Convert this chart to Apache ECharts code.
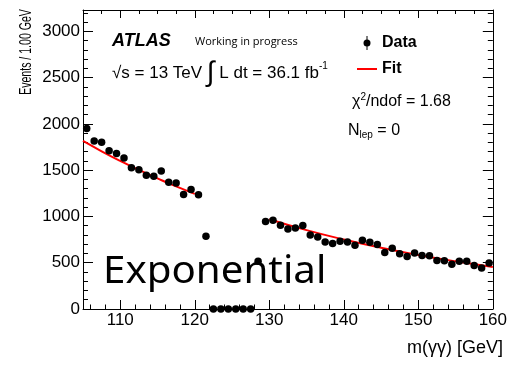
<!DOCTYPE html>
<html><head><meta charset="utf-8">
<script src="https://cdn.jsdelivr.net/npm/echarts@6/dist/echarts.min.js"></script>
<style>html,body{margin:0;padding:0;background:#fff}#c{width:510px;height:368px}</style>
</head><body><div id="c"></div>
<script>
// ---- data ----
const massBins = [105.5,106.5,107.5,108.5,109.5,110.5,111.5,112.5,113.5,114.5,115.5,116.5,117.5,118.5,119.5,120.5,121.5,
  122.5,123.5,124.5,125.5,126.5,127.5,
  128.5,129.5,130.5,131.5,132.5,133.5,134.5,135.5,136.5,137.5,138.5,139.5,140.5,141.5,142.5,143.5,
  144.5,145.5,146.5,147.5,148.5,149.5,150.5,151.5,152.5,153.5,154.5,155.5,156.5,157.5,158.5,159.5];
const eventCounts = [1950,1815,1800,1710,1680,1630,1525,1505,1445,1435,1490,1368,1361,1238,1292,1235,785,
  0,0,0,0,0,0,
  515,945,960,904,865,876,902,800,777,725,707,731,725,688,744,720,
  696,610,656,597,567,606,578,574,523,520,484,516,516,471,444,498];
const fitLeftMass = [105,107.5,110,112.5,115,117.5,120];
const fitLeftEvents = [1815,1704,1600,1502,1411,1324,1244];
const fitRightMass = [130,135,140,145,150,155,160];
const fitRightEvents = [970,852,751,662,584,515,454];
const xMajorTicks = [110,120,130,140,150,160];
const xMinorTicksBottom = [106,108,112,114,116,118,122,124,126,128,132,134,136,138,142,144,146,148,152,154,156,158];
const xMinorTicksTop = [107.5,112.5,115,117.5,122.5,125,127.5,132.5,135,137.5,142.5,145,147.5,152.5,155,157.5];
const yMajorTicks = [0,500,1000,1500,2000,2500,3000];
const yMinorTicks = [100,200,300,400,600,700,800,900,1100,1200,1300,1400,1600,1700,1800,1900,2100,2200,2300,2400,2600,2700,2800,2900,3100,3200];
const X_MIN = 105, X_MAX = 160, Y_MIN = 0, Y_MAX = 3230;

const FONT = 'Liberation Sans';
const chart = echarts.init(document.getElementById('c'), null, {renderer: 'canvas'});

function axisDef(range, position, ticks, len, showLine, showLabels) {
  return {
    type: 'value', min: range[0], max: range[1], position: position,
    axisLine: {show: showLine, onZero: false, lineStyle: {color: '#000', width: 1}},
    axisTick: {show: true, inside: true, length: len, customValues: ticks, lineStyle: {color: '#000', width: 1}},
    axisLabel: showLabels ? {show: true, customValues: ticks, margin: 3, color: '#000', fontFamily: FONT, fontSize: 17,
      formatter: v => String(v)} : {show: false},
    splitLine: {show: false}, minorTick: {show: false}
  };
}
const XR = [X_MIN, X_MAX], YR = [Y_MIN, Y_MAX];

const option = {
  animation: false,
  backgroundColor: '#fff',
  grid: {left: 83, right: 12, top: 10, bottom: 59, containLabel: false},
  xAxis: [
    axisDef(XR, 'bottom', xMajorTicks, 9, true, true),
    axisDef(XR, 'bottom', xMinorTicksBottom, 4.5, false, false),
    axisDef(XR, 'top', xMajorTicks, 8, true, false),
    axisDef(XR, 'top', xMinorTicksTop, 4, false, false)
  ],
  yAxis: [
    axisDef(YR, 'left', yMajorTicks, 10, true, true),
    axisDef(YR, 'left', yMinorTicks, 5, false, false),
    axisDef(YR, 'right', yMajorTicks, 10, true, false),
    axisDef(YR, 'right', yMinorTicks, 5, false, false)
  ],
  legend: {
    orient: 'vertical', left: 357, top: 34, padding: 0, itemWidth: 20, itemHeight: 7, itemGap: 8,
    textStyle: {fontFamily: FONT, fontSize: 16, fontWeight: 'bold', color: '#000', lineHeight: 18},
    data: [
      {name: 'Data', icon: 'circle'},
      {name: 'Fit', icon: 'path://M0,0 L20,0 L20,2 L0,2 Z'}
    ]
  },
  series: [
    {
      name: 'Data', type: 'scatter', xAxisIndex: 0, yAxisIndex: 0, clip: false,
      symbol: 'circle', symbolSize: 7.5, itemStyle: {color: '#000', opacity: 1},
      data: massBins.map((m, i) => [m, eventCounts[i]]), z: 5
    },
    {
      name: 'Fit', type: 'line', xAxisIndex: 0, yAxisIndex: 0, smooth: true, showSymbol: false, symbol: 'none',
      lineStyle: {color: '#ff0000', width: 2}, itemStyle: {color: '#ff0000'},
      data: fitLeftMass.map((m, i) => [m, fitLeftEvents[i]]), z: 4
    },
    {
      name: 'Fit', type: 'line', xAxisIndex: 0, yAxisIndex: 0, smooth: true, showSymbol: false, symbol: 'none',
      lineStyle: {color: '#ff0000', width: 2}, itemStyle: {color: '#ff0000'},
      data: fitRightMass.map((m, i) => [m, fitRightEvents[i]]), z: 4
    }
  ],
  graphic: [
    {type: 'text', x: 27, y: 52, rotation: Math.PI / 2, scaleX: 0.66,
      style: {text: 'Events / 1.00 GeV', fontFamily: FONT, fontSize: 16, fill: '#000', align: 'center', verticalAlign: 'middle'}},
    {type: 'text', x: 503, y: 348,
      style: {text: 'm(γγ) [GeV]', fontFamily: FONT, fontSize: 18, fill: '#000', align: 'right', verticalAlign: 'middle'}},
    {type: 'text', x: 112, y: 41,
      style: {text: 'ATLAS', fontFamily: FONT, fontSize: 18, fontWeight: 'bold', fontStyle: 'italic', fill: '#000', verticalAlign: 'middle'}},
    {type: 'text', x: 195, y: 42,
      style: {text: 'Working in progress', fontFamily: 'Open Sans', fontSize: 11, fill: '#000', verticalAlign: 'middle'}},
    {type: 'text', x: 112, y: 73,
      style: {text: '{a|√s = 13 TeV }{i|∫}{a| L dt = 36.1 fb}{s|-1}', verticalAlign: 'middle', fill: '#000',
        rich: {
          a: {fontFamily: FONT, fontSize: 17, fill: '#000', verticalAlign: 'middle'},
          i: {fontFamily: FONT, fontSize: 28, fill: '#000', verticalAlign: 'middle'},
          s: {fontFamily: FONT, fontSize: 10, fill: '#000', verticalAlign: 'middle', padding: [0, 0, 14, 0]}
        }}},
    {type: 'line', shape: {x1: 367, y1: 36, x2: 367, y2: 50}, style: {stroke: '#000', lineWidth: 1}},
    {type: 'text', x: 352, y: 102,
      style: {text: '{a|χ}{s|2}{a|/ndof = 1.68}', verticalAlign: 'middle', fill: '#000',
        rich: {
          a: {fontFamily: FONT, fontSize: 16, fill: '#000', verticalAlign: 'middle'},
          s: {fontFamily: FONT, fontSize: 10, fill: '#000', verticalAlign: 'middle', padding: [0, 0, 10, 0]}
        }}},
    {type: 'text', x: 348, y: 131,
      style: {text: '{a|N}{s|lep}{a| = 0}', verticalAlign: 'middle', fill: '#000',
        rich: {
          a: {fontFamily: FONT, fontSize: 16, fill: '#000', verticalAlign: 'middle'},
          s: {fontFamily: FONT, fontSize: 10, fill: '#000', verticalAlign: 'middle', padding: [9, 0, 0, 0]}
        }}},
    {type: 'text', x: 103, y: 272, scaleX: 1.06,
      style: {text: 'Exponential', fontFamily: 'Noto Sans', fontSize: 38, fill: '#000', verticalAlign: 'middle'}}
  ]
};
chart.setOption(option);
</script>
</body></html>
